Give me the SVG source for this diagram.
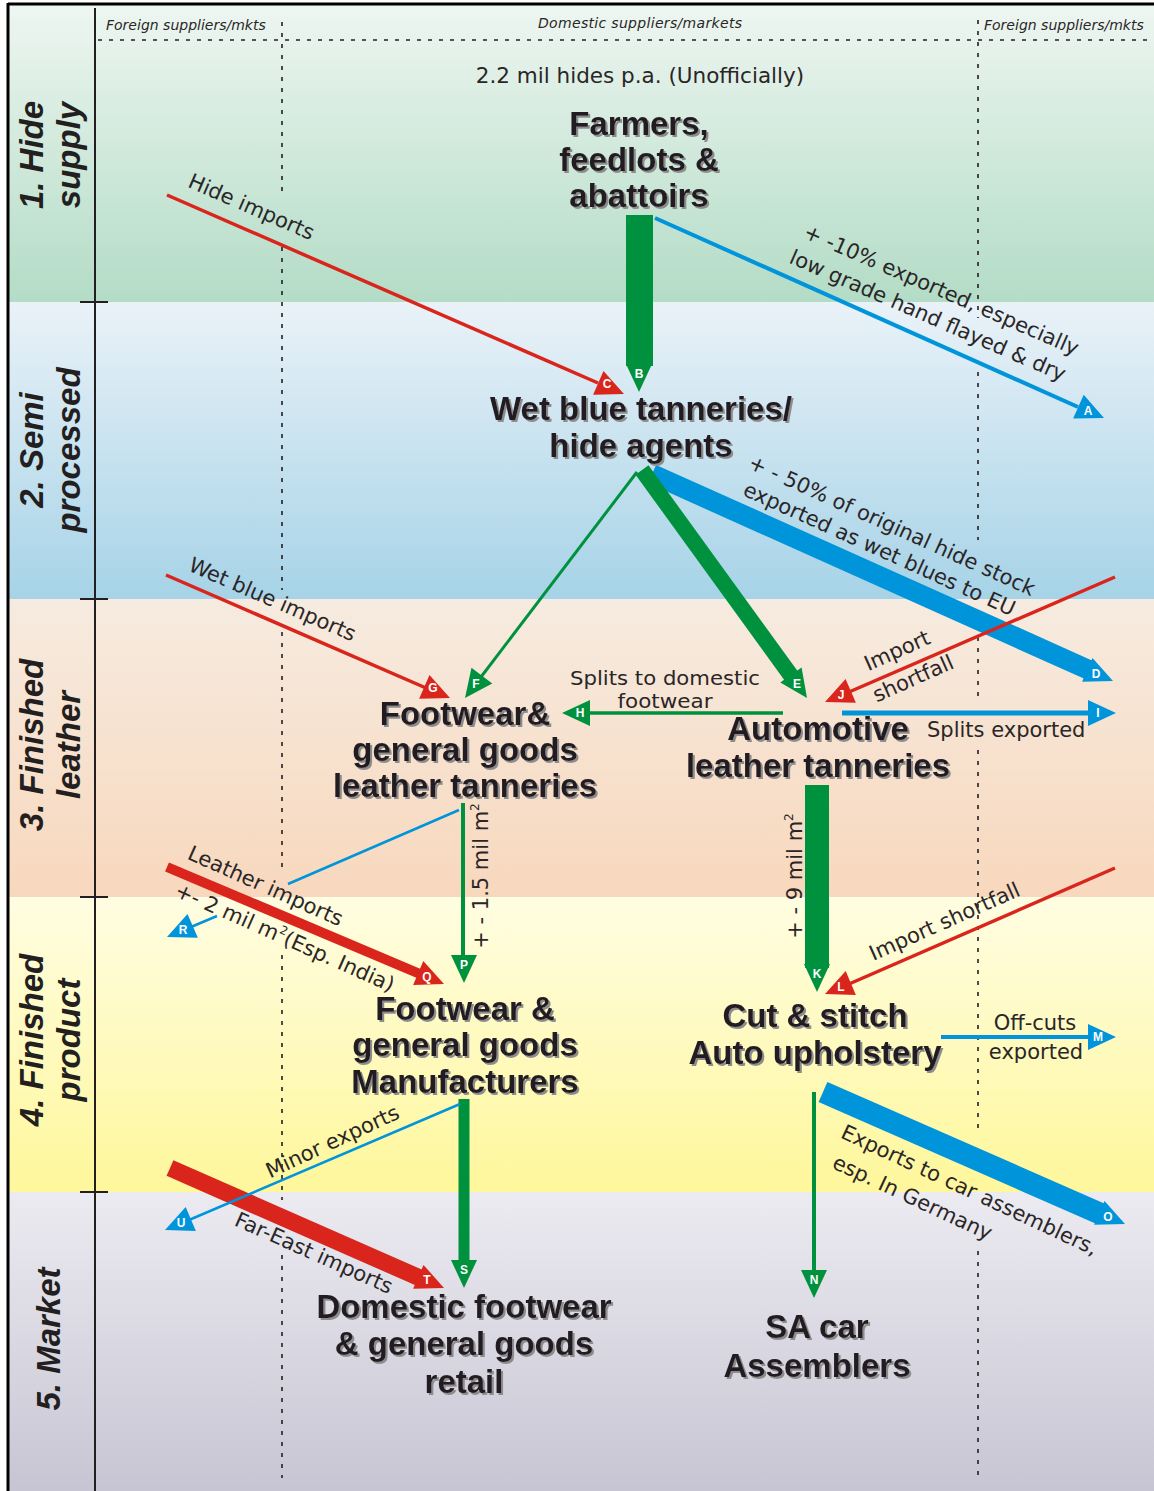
<svg xmlns="http://www.w3.org/2000/svg" xmlns:xlink="http://www.w3.org/1999/xlink" width="1154" height="1491" viewBox="0 0 1154 1491">
<defs>
  <linearGradient id="g1" x1="0" y1="0" x2="0" y2="1"><stop offset="0" stop-color="#eef6f1"/><stop offset="1" stop-color="#b3dcc6"/></linearGradient>
  <linearGradient id="g2" x1="0" y1="0" x2="0" y2="1"><stop offset="0" stop-color="#eaf2f8"/><stop offset="1" stop-color="#a6d3e7"/></linearGradient>
  <linearGradient id="g3" x1="0" y1="0" x2="0" y2="1"><stop offset="0" stop-color="#f6ebe0"/><stop offset="1" stop-color="#f8d8bd"/></linearGradient>
  <linearGradient id="g4" x1="0" y1="0" x2="0" y2="1"><stop offset="0" stop-color="#fffde2"/><stop offset="1" stop-color="#fef79b"/></linearGradient>
  <linearGradient id="g5" x1="0" y1="0" x2="0" y2="1"><stop offset="0" stop-color="#ecebf1"/><stop offset="1" stop-color="#c7c5d3"/></linearGradient>
  <filter id="sh" x="-5%" y="-20%" width="115%" height="150%">
    <feDropShadow dx="2" dy="2" stdDeviation="0.2" flood-color="#8c8c8c" flood-opacity="1"/>
  </filter>
  <path id="ah" d="M0,0 L-28,-13 L-28,13 Z"/>
</defs>
<style>
  .node{font-family:"Liberation Sans",Arial,sans-serif;font-weight:bold;font-size:33px;fill:#231f20;text-anchor:middle;filter:url(#sh)}
  .lbl{font-family:"DejaVu Sans",sans-serif;font-size:21px;fill:#2a2627}
  .hdr{font-family:"DejaVu Sans",sans-serif;font-style:italic;font-size:14px;fill:#2a2627}
  .stage{font-family:"Liberation Sans",Arial,sans-serif;font-weight:bold;font-style:italic;font-size:33px;fill:#231f20;text-anchor:middle}
  .dash{stroke:#231f20;stroke-width:1.6;stroke-dasharray:4 7;fill:none}
  .red{fill:#d9251c}
  .grn{fill:#00913f}
  .blu{fill:#0094db}
  .rl{stroke:#d9251c;fill:none}
  .gl{stroke:#00913f;fill:none}
  .bl{stroke:#0094db;fill:none}
  .let{font-family:"Liberation Sans",Arial,sans-serif;font-weight:bold;font-size:12px;fill:#ffffff;text-anchor:middle}
  .mid{text-anchor:middle}
</style>

<g id="bands">
  <rect x="9" y="4" width="1145" height="298" fill="url(#g1)"/>
  <rect x="9" y="302" width="1145" height="297" fill="url(#g2)"/>
  <rect x="9" y="599" width="1145" height="298" fill="url(#g3)"/>
  <rect x="9" y="897" width="1145" height="295" fill="url(#g4)"/>
  <rect x="9" y="1192" width="1145" height="299" fill="url(#g5)"/>
  <line x1="8" y1="4" x2="1154" y2="4" stroke="#000" stroke-width="3"/>
  <line x1="8" y1="3" x2="8" y2="1491" stroke="#000" stroke-width="3"/>
</g>

<g id="axes">
  <line x1="95" y1="8" x2="95" y2="1491" stroke="#231f20" stroke-width="2"/>
  <line x1="80" y1="302" x2="108" y2="302" stroke="#231f20" stroke-width="2"/>
  <line x1="80" y1="599" x2="108" y2="599" stroke="#231f20" stroke-width="2"/>
  <line x1="80" y1="897" x2="108" y2="897" stroke="#231f20" stroke-width="2"/>
  <line x1="80" y1="1192" x2="108" y2="1192" stroke="#231f20" stroke-width="2"/>
  <line class="dash" x1="98" y1="40" x2="1154" y2="40"/>
  <path class="dash" d="M282,22 V192 M282,247 V590 M282,632 V868 M282,955 V1200 M282,1255 V1478"/>
  <path class="dash" d="M978,20 V318 M978,372 V540 M978,637 V703 M978,750 V1133 M978,1251 V1478"/>
  <text class="hdr" x="106" y="30">Foreign suppliers/mkts</text>
  <text class="hdr" x="640" y="28" text-anchor="middle" textLength="204">Domestic suppliers/markets</text>
  <text class="hdr" x="984" y="30">Foreign suppliers/mkts</text>
</g>

<g id="stages">
  <g id="stage-1"><text class="stage" transform="translate(43,155) rotate(-90)">1. Hide</text><text class="stage" transform="translate(80,155) rotate(-90)">supply</text></g>
  <g id="stage-2"><text class="stage" transform="translate(43,450) rotate(-90)">2. Semi</text><text class="stage" transform="translate(80,450) rotate(-90)">processed</text></g>
  <g id="stage-3"><text class="stage" transform="translate(43,745) rotate(-90)">3. Finished</text><text class="stage" transform="translate(80,745) rotate(-90)">leather</text></g>
  <g id="stage-4"><text class="stage" transform="translate(43,1040) rotate(-90)">4. Finished</text><text class="stage" transform="translate(80,1040) rotate(-90)">product</text></g>
  <g id="stage-5"><text class="stage" transform="translate(60,1339) rotate(-90)">5. Market</text></g>
</g>

<g id="connectors">
  <!-- A -->
  <line class="bl" stroke-width="4" x1="655" y1="218" x2="1078" y2="407"/>
  <!-- C -->
  <line class="rl" stroke-width="3.5" x1="167" y1="195" x2="598" y2="383"/>
  <!-- B -->
  <rect class="grn" x="626" y="215" width="27" height="151"/>
  <!-- D -->
  <line class="bl" stroke-width="20" x1="652" y1="474" x2="1089" y2="670"/>
  <!-- E -->
  <line class="gl" stroke-width="16" x1="642" y1="470" x2="792" y2="677"/>
  <!-- F -->
  <line class="gl" stroke-width="3" x1="637" y1="472" x2="481" y2="677"/>
  <!-- G -->
  <line class="rl" stroke-width="3.5" x1="166" y1="575" x2="426" y2="688"/>
  <!-- H -->
  <line class="gl" stroke-width="3.5" x1="783" y1="713" x2="588" y2="713"/>
  <!-- I -->
  <line class="bl" stroke-width="5" x1="842" y1="713" x2="1090" y2="713"/>
  <!-- J -->
  <line class="rl" stroke-width="3.5" x1="1115" y1="577" x2="849" y2="692"/>
  <!-- K -->
  <rect class="grn" x="805" y="785" width="24" height="183"/>
  <!-- L -->
  <line class="rl" stroke-width="3.5" x1="1115" y1="868" x2="849" y2="984"/>
  <!-- M -->
  <line class="bl" stroke-width="4" x1="941" y1="1037" x2="1090" y2="1037"/>
  <!-- N -->
  <line class="gl" stroke-width="4" x1="814" y1="1092" x2="814" y2="1273"/>
  <!-- O -->
  <line class="bl" stroke-width="22" x1="823" y1="1092" x2="1101" y2="1214"/>
  <!-- P -->
  <line class="gl" stroke-width="4" x1="463" y1="803" x2="463" y2="957"/>
  <!-- Q -->
  <line class="rl" stroke-width="10" x1="167" y1="867" x2="420" y2="974"/>
  <!-- R -->
  <path class="bl" stroke-width="2.5" d="M459,810 L288,884 M217,916 L191,927"/>
  <!-- S -->
  <rect class="grn" x="458.5" y="1099" width="11" height="162"/>
  <!-- T -->
  <line class="rl" stroke-width="17" x1="170" y1="1168" x2="420" y2="1278"/>
  <!-- U -->
  <line class="bl" stroke-width="2.5" x1="460" y1="1104" x2="189" y2="1220"/>

  <!-- arrowheads -->
  <use xlink:href="#ah" class="blu" transform="translate(1104,418) rotate(24)"/>
  <use xlink:href="#ah" class="grn" transform="translate(639,392) rotate(90)"/>
  <use xlink:href="#ah" class="red" transform="translate(624,394) rotate(23.5)"/>
  <use xlink:href="#ah" class="blu" transform="translate(1113,681) rotate(23.5)"/>
  <use xlink:href="#ah" class="grn" transform="translate(807,698) rotate(55)"/>
  <use xlink:href="#ah" class="grn" transform="translate(465,698) rotate(127)"/>
  <use xlink:href="#ah" class="red" transform="translate(450,698) rotate(23.4)"/>
  <use xlink:href="#ah" class="grn" transform="translate(562,713) rotate(180)"/>
  <use xlink:href="#ah" class="blu" transform="translate(1116,713) rotate(0)"/>
  <use xlink:href="#ah" class="red" transform="translate(825,702) rotate(156.7)"/>
  <use xlink:href="#ah" class="grn" transform="translate(817,992) rotate(90)"/>
  <use xlink:href="#ah" class="red" transform="translate(825,994) rotate(157)"/>
  <use xlink:href="#ah" class="blu" transform="translate(1116,1037) rotate(0)"/>
  <use xlink:href="#ah" class="grn" transform="translate(814,1298) rotate(90)"/>
  <use xlink:href="#ah" class="blu" transform="translate(1125,1224) rotate(23.6)"/>
  <use xlink:href="#ah" class="grn" transform="translate(464,983) rotate(90)"/>
  <use xlink:href="#ah" class="red" transform="translate(444,984) rotate(23)"/>
  <use xlink:href="#ah" class="blu" transform="translate(167,937) rotate(156.5)"/>
  <use xlink:href="#ah" class="grn" transform="translate(464,1288) rotate(90)"/>
  <use xlink:href="#ah" class="red" transform="translate(444,1288) rotate(23.6)"/>
  <use xlink:href="#ah" class="blu" transform="translate(165,1230) rotate(157)"/>

  <!-- arrowhead letters -->
  <text class="let" x="1088" y="415">A</text>
  <text class="let" x="639" y="378">B</text>
  <text class="let" x="607" y="387.5">C</text>
  <text class="let" x="1096" y="678">D</text>
  <text class="let" x="797" y="688">E</text>
  <text class="let" x="476" y="688">F</text>
  <text class="let" x="433" y="692">G</text>
  <text class="let" x="580" y="717">H</text>
  <text class="let" x="1098" y="717">I</text>
  <text class="let" x="841" y="699">J</text>
  <text class="let" x="817" y="978">K</text>
  <text class="let" x="841" y="991">L</text>
  <text class="let" x="1098" y="1041">M</text>
  <text class="let" x="814" y="1284">N</text>
  <text class="let" x="1108" y="1221">O</text>
  <text class="let" x="464" y="969">P</text>
  <text class="let" x="427" y="981">Q</text>
  <text class="let" x="183" y="934">R</text>
  <text class="let" x="464" y="1274">S</text>
  <text class="let" x="427" y="1284">T</text>
  <text class="let" x="181" y="1227">U</text>
</g>

<g id="labels">
  <text class="lbl mid" x="640" y="83" style="font-size:21.5px">2.2 mil hides p.a. (Unofficially)</text>
  <text class="lbl mid" transform="translate(248.6,213.5) rotate(23.5)">Hide imports</text>
  <text class="lbl mid" transform="translate(938.6,296.5) rotate(23.5)">+ -10% exported, especially</text>
  <text class="lbl mid" transform="translate(925,322) rotate(23.5)">low grade hand flayed &amp; dry</text>
  <text class="lbl mid" transform="translate(889,532) rotate(24.3)">+ - 50% of original hide stock</text>
  <text class="lbl mid" transform="translate(876.5,555.5) rotate(24.3)">exported as wet blues to EU</text>
  <text class="lbl mid" transform="translate(269.6,606) rotate(23.4)">Wet blue imports</text>
  <text class="lbl mid" x="665" y="685" style="font-size:20px" textLength="190" lengthAdjust="spacingAndGlyphs">Splits to domestic</text>
  <text class="lbl mid" x="665" y="708" style="font-size:20px" textLength="95" lengthAdjust="spacingAndGlyphs">footwear</text>
  <text class="lbl" x="927" y="737">Splits exported</text>
  <text class="lbl mid" transform="translate(900,657) rotate(-24)">Import</text>
  <text class="lbl mid" transform="translate(916,685) rotate(-24)">shortfall</text>
  <text class="lbl mid" transform="translate(262.6,892.5) rotate(24)">Leather imports</text>
  <text class="lbl mid" transform="translate(282,944) rotate(24)">+- 2 mil m<tspan dy="-9" font-size="12">2</tspan><tspan dy="9">(Esp. India)</tspan></text>
  <text class="lbl mid" transform="translate(335.5,1148) rotate(-24.9)">Minor exports</text>
  <text class="lbl mid" transform="translate(311,1259.5) rotate(24)">Far-East imports</text>
  <text class="lbl mid" transform="translate(947.5,928) rotate(-24)">Import shortfall</text>
  <text class="lbl mid" x="1035" y="1030">Off-cuts</text>
  <text class="lbl mid" x="1036" y="1059">exported</text>
  <text class="lbl mid" transform="translate(966.5,1196.5) rotate(25)">Exports to car assemblers,</text>
  <text class="lbl mid" transform="translate(909.5,1204) rotate(25)">esp. In Germany</text>
  <text class="lbl mid" transform="translate(802,876) rotate(-90)">+ - 9 mil m<tspan dy="-9" font-size="12">2</tspan></text>
  <text class="lbl mid" transform="translate(488,876) rotate(-90)">+ - 1.5 mil m<tspan dy="-9" font-size="12">2</tspan></text>
</g>

<g id="node-farmers">
  <text class="node" x="639" y="135">Farmers,</text>
  <text class="node" x="639" y="171">feedlots &amp;</text>
  <text class="node" x="639" y="207">abattoirs</text>
</g>
<g id="node-wetblue">
  <text class="node" x="641" y="420">Wet blue tanneries/</text>
  <text class="node" x="641" y="457">hide agents</text>
</g>
<g id="node-footwear-tanneries">
  <text class="node" x="465" y="725">Footwear&amp;</text>
  <text class="node" x="465" y="761">general goods</text>
  <text class="node" x="465" y="797">leather tanneries</text>
</g>
<g id="node-auto-tanneries">
  <text class="node" x="818" y="740">Automotive</text>
  <text class="node" x="818" y="777">leather tanneries</text>
</g>
<g id="node-manufacturers">
  <text class="node" x="465" y="1020">Footwear &amp;</text>
  <text class="node" x="465" y="1056">general goods</text>
  <text class="node" x="465" y="1093">Manufacturers</text>
</g>
<g id="node-cut-stitch">
  <text class="node" x="815" y="1027">Cut &amp; stitch</text>
  <text class="node" x="815" y="1064">Auto upholstery</text>
</g>
<g id="node-retail">
  <text class="node" x="464" y="1318">Domestic footwear</text>
  <text class="node" x="464" y="1355">&amp; general goods</text>
  <text class="node" x="464" y="1393">retail</text>
</g>
<g id="node-sa-car">
  <text class="node" x="817" y="1338">SA car</text>
  <text class="node" x="817" y="1377">Assemblers</text>
</g>
</svg>
